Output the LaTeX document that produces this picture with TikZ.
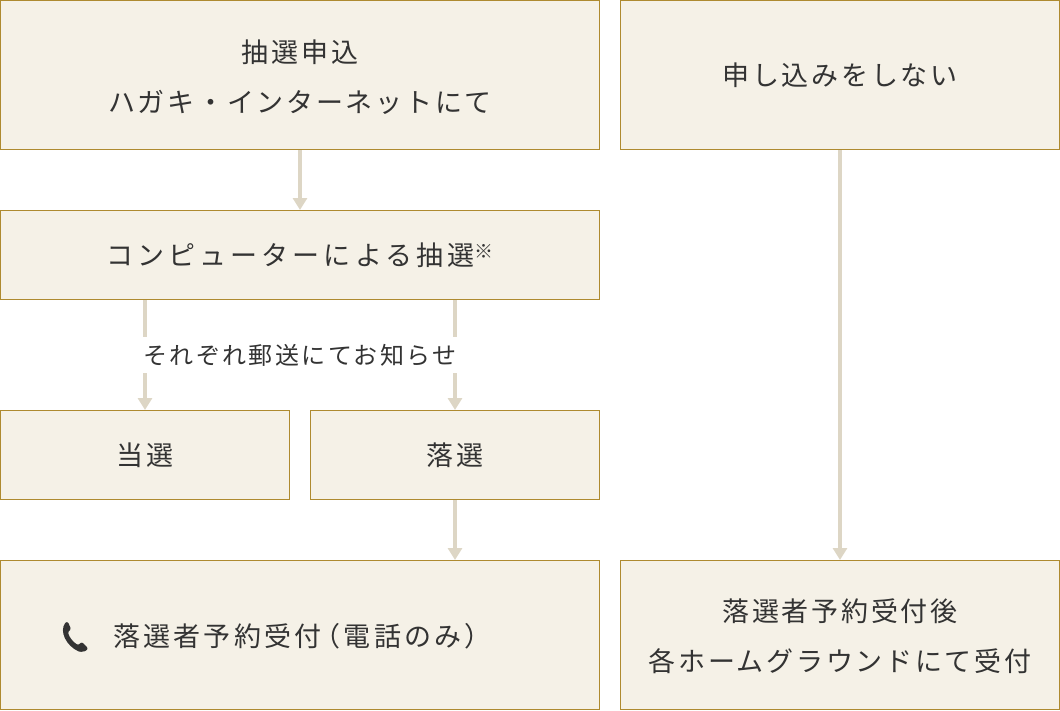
\documentclass[tikz,border=0pt]{standalone}
\usepackage{fontspec}
\setmainfont{Noto Sans CJK JP}[LetterSpace=10]
\newfontfamily\widejp{Noto Sans CJK JP}[LetterSpace=15]
\newfontfamily\phonejp{Noto Sans CJK JP}[LetterSpace=12]
\usetikzlibrary{arrows.meta}
\definecolor{boxfill}{HTML}{F5F1E7}
\definecolor{boxline}{HTML}{AE8A30}
\definecolor{arr}{HTML}{DDD6C5}
\definecolor{txt}{HTML}{333333}
\begin{document}
\begin{tikzpicture}[x=1pt,y=-1pt,
  box/.style={draw=boxline, fill=boxfill, line width=1.3pt, inner sep=0pt, text=txt,
    font=\fontsize{27}{50}\selectfont, align=center},
  btext/.style={inner sep=0pt, text=txt, font=\fontsize{27}{50}\selectfont, align=center},
  conn/.style={draw=arr, line width=4pt},
  tip/.style={-{Triangle[width=14pt,length=12pt]}},
  lbl/.style={text=txt, inner sep=0pt, font=\fontsize{24}{26}\selectfont}]
\useasboundingbox (0,0) rectangle (1060,710);
% boxes
\node[box, minimum width=598.7pt, minimum height=148.7pt] (apply) at (300,75) {};
\node[btext] (applytext) at (300,77) {抽選申込\\ハガキ・インターネットにて};
\node[box, minimum width=438.7pt, minimum height=148.7pt] (noapply) at (840,75) {申し込みをしない};
\node[box, minimum width=598.7pt, minimum height=88.7pt] (lottery) at (300,255) {\widejp コンピューターによる抽選{\fontsize{19}{19}\selectfont\raisebox{7pt}{※}}};
\node[box, minimum width=288.7pt, minimum height=88.7pt] (win) at (145,455) {当選};
\node[box, minimum width=288.7pt, minimum height=88.7pt] (lose) at (455,455) {落選};
\node[box, minimum width=598.7pt, minimum height=148.7pt] (phonebox) at (300,635) {};
\node[box, minimum width=438.7pt, minimum height=148.7pt] (ground) at (840,635) {};
\node[btext] (groundtext) at (840,636.5) {落選者予約受付後\\各ホームグラウンドにて受付};
\node[btext, anchor=west] (phonetext) at (113,636) {\phonejp 落選者予約受付\kern-8pt（電話のみ）};
% phone icon
\fill[txt, rounded corners=1.2pt] (66,622) .. controls (59,631) and (66,646) .. (80,652)
  -- (86,651) -- (88,648) -- (82,642) -- (78,645)
  .. controls (73,642) and (69,637) .. (68,632) -- (71,629) -- (68,622) -- cycle;
% connectors
\coordinate (a1) at (300,150);
\coordinate (a2) at (300,210);
\draw[conn, tip] (a1) -- (a2);
\coordinate (b1) at (145,300);
\coordinate (b2) at (145,337);
\coordinate (b3) at (145,373);
\coordinate (b4) at (145,410);
\draw[conn] (b1) -- (b2);
\draw[conn, tip] (b3) -- (b4);
\coordinate (c1) at (455,300);
\coordinate (c2) at (455,337);
\coordinate (c3) at (455,373);
\coordinate (c4) at (455,410);
\draw[conn] (c1) -- (c2);
\draw[conn, tip] (c3) -- (c4);
\node[lbl] (mail) at (300,355) {それぞれ郵送にてお知らせ};
\coordinate (d1) at (455,500);
\coordinate (d2) at (455,560);
\draw[conn, tip] (d1) -- (d2);
\coordinate (e1) at (840,150);
\coordinate (e2) at (840,560);
\draw[conn, tip] (e1) -- (e2);
\end{tikzpicture}
\end{document}
